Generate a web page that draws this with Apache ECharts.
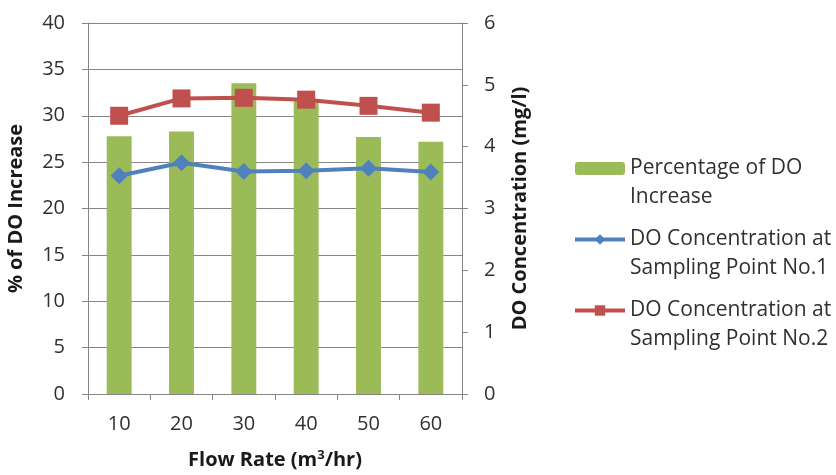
<!DOCTYPE html>
<html>
<head>
<meta charset="utf-8">
<script src="https://cdn.jsdelivr.net/npm/echarts@6/dist/echarts.min.js"></script>
<style>html,body{margin:0;padding:0;background:#fff}#c{width:836px;height:475px}</style>
</head>
<body>
<div id="c"></div>
<script>
const categories = ['10', '20', '30', '40', '50', '60'];
const pctIncrease = [27.8, 28.3, 33.5, 31.6, 27.7, 27.2];
const doPoint1 = [3.53, 3.74, 3.60, 3.61, 3.65, 3.59];
const doPoint2 = [4.50, 4.78, 4.79, 4.76, 4.66, 4.55];
const leftTicks = [0, 40, 5];
const rightTicks = [0, 6, 1];

const FONT = 'Open Sans';
const chart = echarts.init(document.getElementById('c'));
chart.setOption({
  animation: false,
  textStyle: { fontFamily: FONT },
  grid: { left: 88, right: 374, top: 23, bottom: 78 },
  legend: {
    orient: 'vertical',
    left: 568,
    top: 120,
    itemWidth: 50,
    itemHeight: 13,
    itemGap: -16,
    formatter: function (name) { return '\u00a0\n' + name; },
    lineStyle: { width: 4 },
    textStyle: { fontFamily: FONT, fontSize: 21, color: '#303030', lineHeight: 29 },
    data: [
      { name: 'Percentage of DO\nIncrease' },
      { name: 'DO Concentration at\nSampling Point No.1' },
      { name: 'DO Concentration at\nSampling Point No.2' }
    ]
  },
  xAxis: {
    type: 'category',
    data: categories,
    name: 'Flow Rate (m{sup|3}/hr)',
    nameLocation: 'middle',
    nameGap: 55,
    nameTextStyle: {
      fontFamily: FONT, fontSize: 20, fontWeight: 'bold', color: '#1a1a1a',
      rich: { sup: { fontSize: 13, fontWeight: 'bold', verticalAlign: 'top', padding: [0, 0, 9, 0], color: '#1a1a1a' } }
    },
    axisLine: { lineStyle: { color: '#868686', width: 1 } },
    axisTick: { show: true, alignWithLabel: false, length: 6, lineStyle: { color: '#868686' } },
    axisLabel: { fontSize: 20, color: '#303030', margin: 20 }
  },
  yAxis: [
    {
      type: 'value',
      min: leftTicks[0], max: leftTicks[1], interval: leftTicks[2],
      name: '% of DO Increase',
      nameLocation: 'middle',
      nameGap: 62,
      nameTextStyle: { fontFamily: FONT, fontSize: 20, fontWeight: 'bold', color: '#1a1a1a' },
      axisLine: { show: true, lineStyle: { color: '#868686' } },
      axisTick: { show: true, length: 6, lineStyle: { color: '#868686' } },
      axisLabel: { fontSize: 20, color: '#303030', margin: 23 },
      splitLine: { show: true, lineStyle: { color: '#868686', width: 1 } }
    },
    {
      type: 'value',
      min: rightTicks[0], max: rightTicks[1], interval: rightTicks[2],
      position: 'right',
      name: 'DO Concentration (mg/l)',
      nameLocation: 'middle',
      nameGap: 48,
      nameRotate: 90,
      nameTextStyle: { fontFamily: FONT, fontSize: 20, fontWeight: 'bold', color: '#1a1a1a' },
      axisLine: { show: true, lineStyle: { color: '#868686' } },
      axisTick: { show: true, length: 6, lineStyle: { color: '#868686' } },
      axisLabel: { fontSize: 20, color: '#303030', margin: 22 },
      splitLine: { show: false }
    }
  ],
  series: [
    {
      name: 'Percentage of DO\nIncrease',
      type: 'bar',
      yAxisIndex: 0,
      data: pctIncrease,
      barWidth: '40%',
      itemStyle: { color: '#9BBB59' }
    },
    {
      name: 'DO Concentration at\nSampling Point No.1',
      type: 'line',
      yAxisIndex: 1,
      data: doPoint1,
      symbol: 'diamond',
      symbolSize: 17,
      lineStyle: { color: '#4F81BD', width: 4 },
      itemStyle: { color: '#4F81BD' }
    },
    {
      name: 'DO Concentration at\nSampling Point No.2',
      type: 'line',
      yAxisIndex: 1,
      data: doPoint2,
      symbol: 'rect',
      symbolSize: 18,
      lineStyle: { color: '#C0504D', width: 4 },
      itemStyle: { color: '#C0504D' }
    }
  ]
});
</script>
</body>
</html>
